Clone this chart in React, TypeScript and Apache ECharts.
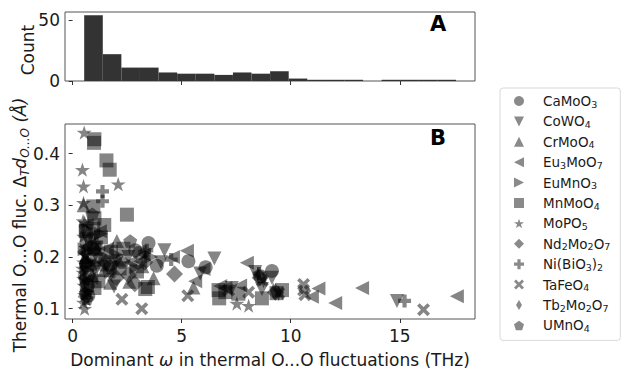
import React, { useEffect, useRef } from 'react';
import * as echarts from 'echarts';

const FONT = 'DejaVu Sans';

// Histogram (panel A)
const histStart = 0.53;
const histBinWidth = 0.8525;
const histCounts = [54, 22, 11, 11, 7, 6, 6, 5, 7, 6, 8, 2, 1, 1, 1, 0, 1, 1, 1, 1];

// Tick labels
const xTicks = [0, 5, 10, 15];
const yTicks = [0.1, 0.2, 0.3, 0.4];
const countTicks = [0, 50];

// Scatter (panel B): [omega THz, delta d (Å)]
const CaMoO3 = [[3.48, 0.227], [3.86, 0.183], [5.31, 0.192], [9.14, 0.173], [2.87, 0.213], [3.05, 0.208], [0.72, 0.125], [0.62, 0.185], [6.1, 0.18], [0.7, 0.145], [1.75, 0.185], [0.95, 0.215], [8.6, 0.163]];
const CoWO4 = [[4.21, 0.213], [6.5, 0.197], [9.14, 0.16], [8.37, 0.171], [8.68, 0.138], [14.87, 0.115], [1.9, 0.143], [2.05, 0.192], [1.05, 0.205], [5.85, 0.168], [0.7, 0.232], [4.05, 0.19], [2.55, 0.2], [7.3, 0.14]];
const CrMoO4 = [[2.03, 0.231], [2.1, 0.195], [1.72, 0.15], [3.71, 0.159], [5.54, 0.141], [1.0, 0.225], [0.6, 0.2], [0.9, 0.165], [2.6, 0.152], [3.2, 0.182], [0.55, 0.135], [1.45, 0.175], [0.5, 0.3]];
const Eu3MoO7 = [[7.99, 0.189], [7.68, 0.145], [10.97, 0.123], [11.27, 0.139], [12.04, 0.111], [13.27, 0.14], [17.62, 0.124], [5.24, 0.212], [6.0, 0.177], [5.62, 0.153], [6.77, 0.144], [3.1, 0.192], [1.57, 0.216], [0.65, 0.262], [1.25, 0.25], [0.6, 0.22], [2.65, 0.19], [0.85, 0.16], [3.25, 0.205], [4.6, 0.2], [7.0, 0.14]];
const EuMnO3 = [[0.62, 0.255], [1.3, 0.245], [0.55, 0.215], [1.05, 0.24], [2.0, 0.205], [0.65, 0.175], [3.6, 0.2], [0.9, 0.19], [2.9, 0.18], [1.5, 0.2]];
const MnMoO4 = [[1.0, 0.428], [0.98, 0.421], [1.55, 0.387], [1.7, 0.369], [2.49, 0.282], [0.95, 0.298], [1.0, 0.275], [0.95, 0.255], [1.45, 0.262], [0.6, 0.25], [1.3, 0.238], [0.65, 0.235], [1.0, 0.218], [2.33, 0.216], [1.75, 0.21], [1.1, 0.195], [1.7, 0.18], [2.15, 0.178], [3.45, 0.142], [1.18, 0.153], [1.0, 0.14], [3.33, 0.138], [6.69, 0.136], [6.72, 0.12], [7.0, 0.132], [7.6, 0.129], [8.68, 0.12], [9.6, 0.136], [9.35, 0.13], [2.95, 0.172], [0.65, 0.145]];
const MoPO5 = [[0.53, 0.441], [0.45, 0.369], [2.09, 0.341], [0.5, 0.337], [0.5, 0.305], [0.48, 0.27], [0.55, 0.267], [0.5, 0.24], [0.55, 0.205], [0.5, 0.19], [0.48, 0.17], [0.5, 0.158], [0.52, 0.145], [0.55, 0.127], [0.5, 0.112], [0.55, 0.1], [0.62, 0.118], [7.53, 0.11], [8.07, 0.106], [0.7, 0.132], [0.45, 0.178], [0.6, 0.218]];
const Nd2Mo2O7 = [[4.67, 0.167], [2.56, 0.165], [2.85, 0.148], [0.6, 0.21], [1.5, 0.19], [3.3, 0.19], [0.65, 0.16], [9.3, 0.132], [8.6, 0.16], [2.0, 0.16]];
const NiBiO32 = [[1.37, 0.327], [1.37, 0.308], [3.4, 0.213], [4.52, 0.195], [15.22, 0.115], [0.65, 0.19], [1.1, 0.228], [3.3, 0.21], [8.55, 0.168], [0.9, 0.18]];
const TaFeO4 = [[3.17, 0.1], [2.26, 0.118], [5.28, 0.125], [10.59, 0.147], [10.59, 0.136], [10.65, 0.127], [16.09, 0.098], [7.15, 0.136], [8.07, 0.132], [9.45, 0.13], [1.7, 0.17], [0.6, 0.2], [8.7, 0.155]];
const Tb2Mo2O7 = [[0.5, 0.18], [0.55, 0.155], [1.0, 0.175], [8.5, 0.165], [8.75, 0.155], [9.2, 0.135], [9.45, 0.13], [0.5, 0.21], [1.8, 0.17], [0.5, 0.25]];
const UMnO4 = [[0.9, 0.283], [2.64, 0.231], [0.6, 0.185], [1.0, 0.185], [1.45, 0.185], [0.6, 0.13], [0.65, 0.12], [2.3, 0.19], [1.2, 0.215], [0.55, 0.16]];

const materialNames = ['CaMoO3', 'CoWO4', 'CrMoO4', 'Eu3MoO7', 'EuMnO3', 'MnMoO4', 'MoPO5', 'Nd2Mo2O7', 'Ni(BiO3)2', 'TaFeO4', 'Tb2Mo2O7', 'UMnO4'];
const materialData = [CaMoO3, CoWO4, CrMoO4, Eu3MoO7, EuMnO3, MnMoO4, MoPO5, Nd2Mo2O7, NiBiO32, TaFeO4, Tb2Mo2O7, UMnO4];

// marker styles
const STAR = 'path://M50,0L61.23,34.55L97.55,34.55L68.17,55.9L79.39,90.45L50,69.1L20.61,90.45L31.83,55.9L2.45,34.55L38.77,34.55Z';
const PENT = 'path://M50,0L97.55,34.55L79.39,90.45L20.61,90.45L2.45,34.55Z';
const PLUS = 'path://M34,0L66,0L66,34L100,34L100,66L66,66L66,100L34,100L34,66L0,66L0,34L34,34Z';
const XMARK = 'path://M0,20L20,0L50,30L80,0L100,20L70,50L100,80L80,100L50,70L20,100L0,80L30,50Z';
const TDOWN = 'path://M0,0L100,0L50,100Z';
const TLEFT = 'path://M100,0L100,100L0,50Z';
const TRIGHT = 'path://M0,0L0,100L100,50Z';
const THIN = 'path://M30,0L60,50L30,100L0,50Z';

const markers: { symbol: string; size: any }[] = [
  { symbol: 'circle', size: 14 },
  { symbol: TDOWN, size: 14 },
  { symbol: 'triangle', size: 14 },
  { symbol: TLEFT, size: 14 },
  { symbol: TRIGHT, size: 14 },
  { symbol: 'rect', size: 14 },
  { symbol: STAR, size: 15 },
  { symbol: 'diamond', size: 17 },
  { symbol: PLUS, size: 13 },
  { symbol: XMARK, size: 13 },
  { symbol: THIN, size: [10, 16] },
  { symbol: PENT, size: 14 },
];

const richName = (name: string) =>
  name.replace(/(\d+)/g, '\u0001$1\u0002').split(/(\u0001\d+\u0002)/).filter((s) => s.length > 0)
    .map((s) => (s.charAt(0) === '\u0001' ? `{s|${s.slice(1, -1)}}` : `{n|${s}}`)).join('');

export default function App() {
  const ref = useRef<HTMLDivElement>(null);
  useEffect(() => {
    if (!ref.current) return;
    const chart = echarts.init(ref.current, null, { renderer: 'svg' });
    const histData = histCounts.map((c, i) => [histStart + i * histBinWidth, histStart + (i + 1) * histBinWidth, c]);
    const textColor = '#1a1a1a';
    const axisCommon = {
      axisLine: { show: false },
      splitLine: { show: false },
      axisTick: { show: true, length: 4, lineStyle: { color: '#333', width: 1 } },
    };
    const option: any = {
      animation: false,
      backgroundColor: '#fff',
      grid: [
        { left: 65, top: 12, width: 410, height: 69, show: true, borderColor: '#555', borderWidth: 1, backgroundColor: 'transparent' },
        { left: 65, top: 124, width: 410, height: 210, show: true, borderColor: '#555', borderWidth: 1, backgroundColor: 'transparent' },
      ],
      xAxis: [
        {
          ...axisCommon, type: 'value', gridIndex: 0, min: -0.35, max: 18.45,
          axisTick: { ...axisCommon.axisTick, customValues: xTicks },
          axisLabel: { show: false },
        },
        {
          ...axisCommon, type: 'value', gridIndex: 1, min: -0.35, max: 18.45,
          axisTick: { ...axisCommon.axisTick, customValues: xTicks },
          axisLabel: { customValues: xTicks, margin: 8, fontFamily: FONT, fontSize: 17, color: textColor },
          name: 'Dominant {i|ω} in thermal O...O fluctuations (THz)',
          nameLocation: 'middle', nameGap: 32,
          nameTextStyle: { fontFamily: FONT, fontSize: 17, color: textColor, rich: { i: { fontFamily: FONT, fontSize: 17, fontStyle: 'italic', color: textColor } } },
        },
      ],
      yAxis: [
        {
          ...axisCommon, type: 'value', gridIndex: 0, min: 0, max: 56.6,
          axisTick: { ...axisCommon.axisTick, customValues: countTicks },
          axisLabel: { customValues: countTicks, margin: 5, fontFamily: FONT, fontSize: 17, color: textColor },
        },
        {
          ...axisCommon, type: 'value', gridIndex: 1, min: 0.08, max: 0.4575,
          axisTick: { ...axisCommon.axisTick, customValues: yTicks },
          axisLabel: { customValues: yTicks, margin: 5, fontFamily: FONT, fontSize: 17, color: textColor, formatter: (v: number) => v.toFixed(1) },
        },
      ],
      legend: {
        orient: 'vertical', left: 500, top: 88,
        padding: [6, 10, 7, 14], itemGap: 5.4, itemWidth: 10, itemHeight: 10,
        borderColor: '#d9d9d9', borderWidth: 1, borderRadius: 3,
        itemStyle: { color: '#8a8a8a', opacity: 1 },
        selectedMode: false,
        data: materialNames,
        formatter: (name: string) => richName(name),
        textStyle: {
          padding: [0, 0, 0, 14],
          rich: {
            n: { fontFamily: FONT, fontSize: 13.5, lineHeight: 16, color: textColor },
            s: { fontFamily: FONT, fontSize: 9.5, lineHeight: 11, verticalAlign: 'bottom', color: textColor },
          },
        },
      },
      graphic: [
        { type: 'text', x: 438, y: 24, style: { text: 'A', fontFamily: FONT, fontSize: 21, fontWeight: 'bold', fill: '#000', align: 'center', verticalAlign: 'middle' } },
        { type: 'text', x: 438, y: 138, style: { text: 'B', fontFamily: FONT, fontSize: 21, fontWeight: 'bold', fill: '#000', align: 'center', verticalAlign: 'middle' } },
        { type: 'text', x: 28, y: 50, rotation: Math.PI / 2, style: { text: 'Count', fontFamily: FONT, fontSize: 17, fill: textColor, align: 'center', verticalAlign: 'middle' } },
        {
          type: 'text', x: 20, y: 225, rotation: Math.PI / 2,
          style: {
            text: 'Thermal O...O fluc. Δ{sub|T}{it|d}{sub|O...O} {it|(Å)}',
            fontFamily: FONT, fontSize: 17, lineHeight: 22, fill: textColor, align: 'center', verticalAlign: 'middle',
            rich: {
              sub: { fontFamily: FONT, fontSize: 12, fontStyle: 'italic', lineHeight: 13, verticalAlign: 'bottom', fill: textColor },
              it: { fontFamily: FONT, fontSize: 17, fontStyle: 'italic', lineHeight: 22, fill: textColor },
            },
          },
        },
      ],
      series: [
        {
          type: 'custom', xAxisIndex: 0, yAxisIndex: 0,
          encode: { x: [0, 1], y: 2 },
          data: histData,
          renderItem: (params: any, api: any) => {
            const p0 = api.coord([api.value(0), api.value(2)]);
            const p1 = api.coord([api.value(1), 0]);
            return { type: 'rect', shape: { x: p0[0], y: p0[1], width: p1[0] - p0[0], height: p1[1] - p0[1] }, style: { fill: '#333333' } };
          },
          silent: true,
        },
        ...materialNames.map((name, i) => ({
          type: 'scatter', name, xAxisIndex: 1, yAxisIndex: 1,
          data: materialData[i],
          symbol: markers[i].symbol, symbolSize: markers[i].size, symbolKeepAspect: true,
          itemStyle: { color: 'rgba(0,0,0,0.6)' },
          silent: true,
        })),
      ],
    };
    chart.setOption(option);
    return () => chart.dispose();
  }, []);
  return <div ref={ref} style={{ position: 'absolute', left: 0, top: 0, width: 626, height: 373 }} />;
}
